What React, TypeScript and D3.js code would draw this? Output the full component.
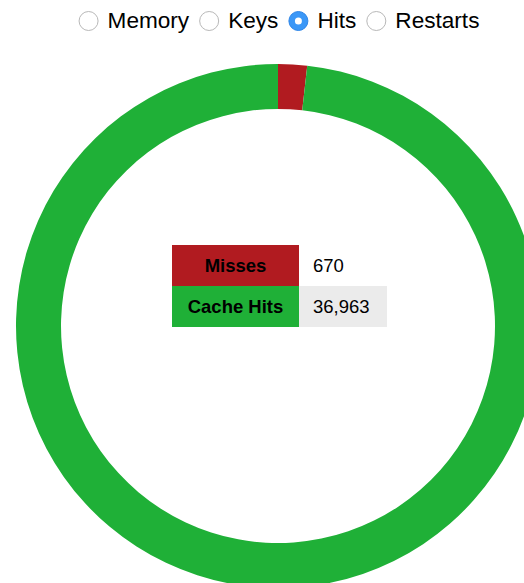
import React, { useEffect, useRef } from 'react';
import * as d3 from 'd3';

const options = ['Memory', 'Keys', 'Hits', 'Restarts'];
const selectedOption = 'Hits';
const categories = ['Misses', 'Cache Hits'];
const values = [670, 36963];
const colors = ['#b11b20', '#1fb037'];

const W = 524;
const H = 583;

const App = () => {
  const ref = useRef<SVGSVGElement>(null);

  useEffect(() => {
    const svg = d3.select(ref.current);
    svg.selectAll('*').remove();
    const font = '"Liberation Sans", Arial, Helvetica, sans-serif';

    // radio buttons row
    const radios = svg.append('g');
    let x = 0;
    options.forEach((opt) => {
      const g = radios.append('g').attr('transform', `translate(${x},0)`);
      const on = opt === selectedOption;
      g.append('circle')
        .attr('cx', 10)
        .attr('cy', 21)
        .attr('r', 9.5)
        .attr('fill', on ? '#3a97f7' : '#fff')
        .attr('stroke', on ? '#2f86e8' : '#b8b8b8')
        .attr('stroke-width', 1);
      if (on) g.append('circle').attr('cx', 10).attr('cy', 21).attr('r', 3.5).attr('fill', '#fff');
      const t = g
        .append('text')
        .attr('x', 29)
        .attr('y', 28)
        .attr('font-family', font)
        .attr('font-size', 22.6)
        .attr('fill', '#000')
        .text(opt);
      const tw = (t.node() as SVGTextElement).getComputedTextLength();
      x += 29 + tw + 10;
    });
    const totalW = x - 10;
    radios.attr('transform', `translate(${279 - totalW / 2},0)`);

    // donut
    const cx = 278;
    const cy = 326;
    const pie = d3.pie<number>().sort(null).value((d) => d);
    const arc = d3.arc<d3.PieArcDatum<number>>().innerRadius(217).outerRadius(262);
    const donut = svg.append('g').attr('transform', `translate(${cx},${cy})`);
    donut
      .selectAll('path')
      .data(pie(values))
      .enter()
      .append('path')
      .attr('d', arc)
      .attr('fill', (d, i) => colors[i]);

    // center table
    const labelW = 127;
    const valueW = 88;
    const rowH = 41;
    const tableX = 172;
    const tableY = 245;
    const fmt = d3.format(',');
    categories.forEach((c, i) => {
      const y = tableY + i * rowH;
      svg.append('rect')
        .attr('x', tableX).attr('y', y).attr('width', labelW).attr('height', rowH)
        .attr('fill', colors[i]);
      svg.append('rect')
        .attr('x', tableX + labelW).attr('y', y).attr('width', valueW).attr('height', rowH)
        .attr('fill', i % 2 === 1 ? '#ebebeb' : '#fff');
      svg.append('text')
        .attr('x', tableX + labelW / 2).attr('y', y + rowH / 2).attr('dy', '0.36em')
        .attr('text-anchor', 'middle')
        .attr('font-family', font).attr('font-size', 18.5).attr('font-weight', 'bold')
        .attr('fill', '#000')
        .text(c);
      svg.append('text')
        .attr('x', tableX + labelW + 14).attr('y', y + rowH / 2).attr('dy', '0.36em')
        .attr('font-family', font).attr('font-size', 18.5)
        .attr('fill', '#000')
        .text(fmt(values[i]));
    });
  }, []);

  return (
    <svg
      ref={ref}
      width={W}
      height={H}
      style={{ position: 'absolute', left: 0, top: 0, background: '#fff' }}
    />
  );
};

export default App;
